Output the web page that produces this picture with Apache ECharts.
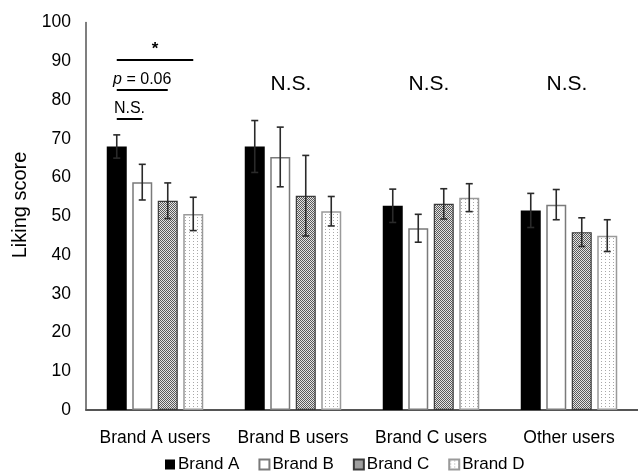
<!DOCTYPE html>
<html>
<head>
<meta charset="utf-8">
<script src="https://cdn.jsdelivr.net/npm/echarts@6/dist/echarts.min.js"></script>
<style>
  html, body { margin: 0; padding: 0; background: #fff; }
  #chart { width: 638px; height: 471px; }
</style>
</head>
<body>
<div id="chart"></div>
<script>
// Liking scores per user group, with standard errors
const categories = ['Brand A users', 'Brand B users', 'Brand C users', 'Other users'];
const seriesNames = ['Brand A', 'Brand B', 'Brand C', 'Brand D'];
const brandA = [68.0, 68.0, 52.7, 51.5];
const brandB = [58.8, 65.3, 46.9, 53.0];
const brandC = [54.0, 55.3, 53.2, 45.9];
const brandD = [50.6, 51.3, 54.8, 45.0];
const errA = [3.0, 6.7, 4.3, 4.4];
const errB = [4.6, 7.7, 3.6, 3.9];
const errC = [4.6, 10.4, 3.9, 3.7];
const errD = [4.3, 3.8, 3.6, 4.1];
const yTicks = [0, 10, 20, 30, 40, 50, 60, 70, 80, 90, 100];

// Pairwise comparisons within the Brand A users group: [from bar, to bar, label, bracket height]
const comparisons = [
  [0, 3, '*', 90.3],
  [0, 2, 'p = 0.06', 82.6],
  [0, 1, 'N.S.', 75.1]
];
// Overall test result printed above each group
const groupNotes = ['', 'N.S.', 'N.S.', 'N.S.'];
const groupNoteLevel = 84;

const values = [brandA, brandB, brandC, brandD];
const errors = [errA, errB, errC, errD];

const FONT = '"Liberation Sans", Arial, sans-serif';
const BAR_W = 20;
const BAR_GAP = 5.5;
const PITCH = BAR_W + BAR_GAP;
const barOffset = i => (i - 1.5) * PITCH;

function makePattern(w, h, bg, fg, pts) {
  const c = document.createElement('canvas');
  c.width = w; c.height = h;
  const ctx = c.getContext('2d');
  ctx.fillStyle = bg; ctx.fillRect(0, 0, w, h);
  ctx.fillStyle = fg;
  pts.forEach(p => ctx.fillRect(p[0], p[1], 1, 1));
  return { image: c, repeat: 'repeat' };
}
const checker = makePattern(2, 2, '#e4e4e4', '#5a5a5a', [[0, 0], [1, 1]]);
const dots = makePattern(4, 3, '#ffffff', '#a8a8a8', [[1, 1]]);

const styles = [
  { color: '#000000', borderColor: '#000000', borderWidth: 0 },
  { color: '#ffffff', borderColor: '#7a7a7a', borderWidth: 1.5 },
  { color: checker, borderColor: '#3a3a3a', borderWidth: 1.2 },
  { color: dots, borderColor: '#9a9a9a', borderWidth: 1.5 }
];

const barSeries = seriesNames.map((name, i) => ({
  name: name,
  type: 'bar',
  data: values[i],
  barWidth: BAR_W,
  barGap: (BAR_GAP / BAR_W * 100) + '%',
  itemStyle: styles[i],
  emphasis: { disabled: true },
  z: 2
}));

const errData = [];
values.forEach((vals, s) => {
  vals.forEach((v, c) => {
    errData.push([c, s, v - errors[s][c], v + errors[s][c]]);
  });
});

const errorSeries = {
  name: 'errors',
  type: 'custom',
  data: errData,
  encode: { x: 0, y: [2, 3] },
  z: 5,
  silent: true,
  renderItem: function (params, api) {
    const c = api.value(0), s = api.value(1);
    const x = api.coord([c, 0])[0] + barOffset(s);
    const yLo = api.coord([c, api.value(2)])[1];
    const yHi = api.coord([c, api.value(3)])[1];
    const cap = 3.5;
    const st = { stroke: '#2a2a2a', lineWidth: 1.6 };
    return {
      type: 'group',
      children: [
        { type: 'line', shape: { x1: x, y1: yLo, x2: x, y2: yHi }, style: st },
        { type: 'line', shape: { x1: x - cap, y1: yHi, x2: x + cap, y2: yHi }, style: st },
        { type: 'line', shape: { x1: x - cap, y1: yLo, x2: x + cap, y2: yLo }, style: st }
      ]
    };
  }
};

const bracketSeries = {
  name: 'brackets',
  type: 'custom',
  data: comparisons.map(d => [0, d[0], d[1], d[3]]),
  encode: { x: 0, y: 3 },
  z: 6,
  silent: true,
  renderItem: function (params, api) {
    const comp = comparisons[params.dataIndex];
    const cx = api.coord([api.value(0), 0])[0];
    const x1 = cx + barOffset(api.value(1));
    const x2 = cx + barOffset(api.value(2));
    const y = api.coord([0, api.value(3)])[1];
    const label = comp[2];
    const isStar = label === '*';
    let textEl;
    if (label.indexOf('p = ') === 0) {
      textEl = {
        type: 'text',
        x: (x1 + x2) / 2, y: y - 2,
        style: {
          text: '{i|p}' + label.slice(1),
          rich: { i: { fontStyle: 'italic', fontFamily: FONT, fontSize: 16, fill: '#000' } },
          fontFamily: FONT, fontSize: 16, fill: '#000',
          align: 'center', verticalAlign: 'bottom'
        }
      };
    } else {
      textEl = {
        type: 'text',
        x: (x1 + x2) / 2, y: y - 2,
        style: {
          text: label, fontFamily: FONT, fontSize: isStar ? 17 : 16, fill: '#000',
          fontWeight: isStar ? 'bold' : 'normal',
          align: 'center', verticalAlign: 'bottom'
        }
      };
    }
    return {
      type: 'group',
      children: [
        { type: 'line', shape: { x1: x1, y1: y, x2: x2, y2: y }, style: { stroke: '#000', lineWidth: 2 } },
        textEl
      ]
    };
  }
};

const noteSeries = {
  name: 'notes',
  type: 'custom',
  data: groupNotes.map((t, i) => [i, groupNoteLevel]),
  encode: { x: 0, y: 1 },
  z: 6,
  silent: true,
  renderItem: function (params, api) {
    const t = groupNotes[params.dataIndex];
    if (!t) return null;
    const p = api.coord([api.value(0), api.value(1)]);
    return {
      type: 'text',
      x: p[0] - 2, y: p[1],
      style: {
        text: t, fontFamily: FONT, fontSize: 21, fill: '#000',
        align: 'center', verticalAlign: 'middle'
      }
    };
  }
};

const chart = echarts.init(document.getElementById('chart'), null, { renderer: 'canvas' });
chart.setOption({
  animation: false,
  backgroundColor: '#ffffff',
  textStyle: { fontFamily: FONT },
  grid: { left: 86, top: 22.5, width: 560, height: 387.5, containLabel: false },
  legend: {
    data: seriesNames,
    top: 451,
    left: 160,
    itemWidth: 10,
    itemHeight: 10,
    itemGap: 19,
    icon: 'rect',
    textStyle: { fontFamily: FONT, fontSize: 17, color: '#000', padding: [0, 0, 0, -2] },
    selectedMode: false
  },
  xAxis: {
    type: 'category',
    data: categories,
    axisLine: { lineStyle: { color: '#555', width: 1.8 } },
    axisTick: { show: false },
    axisLabel: { fontFamily: FONT, fontSize: 17.5, color: '#000', margin: 19, interval: 0 }
  },
  yAxis: {
    type: 'value',
    min: yTicks[0],
    max: yTicks[yTicks.length - 1],
    interval: yTicks[1] - yTicks[0],
    axisLine: { show: true, lineStyle: { color: '#555', width: 1.5 } },
    axisTick: { show: false },
    splitLine: { show: false },
    axisLabel: { fontFamily: FONT, fontSize: 17.5, color: '#000', margin: 15 }
  },
  graphic: [{
    type: 'text',
    x: 20, y: 205,
    rotation: Math.PI / 2,
    style: {
      text: 'Liking score', fontFamily: FONT, fontSize: 20, fill: '#000',
      align: 'center', verticalAlign: 'middle'
    }
  }],
  series: barSeries.concat([errorSeries, bracketSeries, noteSeries])
});
</script>
</body>
</html>
